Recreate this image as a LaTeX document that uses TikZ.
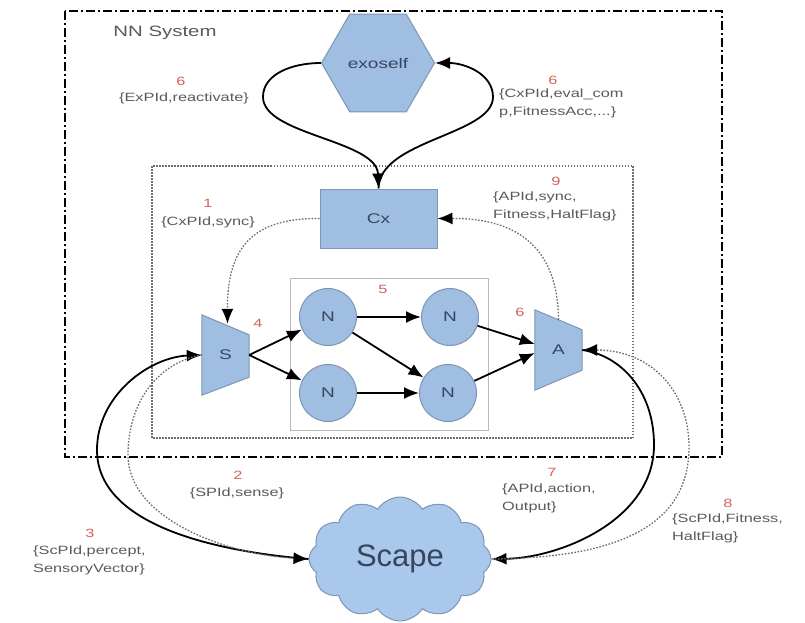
\documentclass[tikz,border=0pt]{standalone}
\usepackage{fontspec}
\setmainfont{Liberation Sans}
\newfontfamily\labfont[FakeStretch=1.36]{Liberation Sans}
\usetikzlibrary{shapes.geometric,shapes.symbols,arrows.meta,calc}
\definecolor{nfill}{RGB}{160,190,225}
\definecolor{nline}{RGB}{125,150,180}
\definecolor{ntext}{RGB}{55,70,95}
\definecolor{labc}{RGB}{90,90,90}
\definecolor{numc}{RGB}{210,100,90}
\definecolor{cloudfill}{RGB}{170,200,235}
\definecolor{dotc}{RGB}{110,110,110}
\begin{document}
\begin{tikzpicture}[x=1pt,y=-1pt,
  nodebox/.style={fill=nfill,draw=nline,line width=1pt},
  ntxt/.style={text=ntext,font=\labfont\fontsize{14}{16}\selectfont},
  lbl/.style={text=labc,font=\labfont\fontsize{12}{18}\selectfont,align=left,inner sep=0pt},
  num/.style={text=numc,font=\labfont\fontsize{12}{14}\selectfont,inner sep=0pt},
  arr/.style={draw=black,line width=1.8pt,-{Latex[length=15pt,width=12pt]}},
  darr/.style={draw=dotc,line width=1.3pt,dash pattern=on 1.6pt off 1.6pt,-{Latex[length=15pt,width=12pt,color=black]}},
  neuron/.style={circle,nodebox,minimum size=57pt,inner sep=0pt,ntxt},
  trapbox/.style={minimum width=47pt,minimum height=80pt,inner sep=0pt,ntxt}
]
\fill[white] (0,0) rectangle (805,623);
\useasboundingbox (0,0) rectangle (805,623);

% frames
\draw[line width=2.4pt,dash pattern=on 9pt off 3pt on 2pt off 3pt] (65,11) rectangle (722,457);
\draw[draw=dotc,line width=1.2pt,dash pattern=on 1.5pt off 1.5pt] (152,166) rectangle (633,438);
\draw[gray!55,line width=1pt] (290,278) rectangle (488,430);

% main nodes
\node[regular polygon,regular polygon sides=6,minimum size=113pt,inner sep=0pt,nodebox,ntxt] (exo) at (378,63) {exoself};
\node[rectangle,nodebox,minimum width=117pt,minimum height=59pt,ntxt] (cx) at (378.5,218.5) {Cx};

\node[trapbox] (S) at (225.5,355) {};
\filldraw[nodebox] (S.north west) -- ($(S.north east)+(0,20)$) -- ($(S.south east)+(0,-18)$) -- (S.south west) -- cycle;
\node[ntxt] (Stext) at (S.center) {S};

\node[trapbox] (A) at (558.5,350) {};
\filldraw[nodebox] (A.north west) -- ($(A.north east)+(0,20)$) -- ($(A.south east)+(0,-20)$) -- (A.south west) -- cycle;
\node[ntxt] (Atext) at (A.center) {A};

\node[neuron] (n1) at (328,317) {N};
\node[neuron] (n2) at (328,393) {N};
\node[neuron] (n3) at (450,317) {N};
\node[neuron] (n4) at (448,393) {N};

\node[cloud,cloud puffs=12,cloud puff arc=115,aspect=1.5,fill=cloudfill,draw=nline,line width=1pt,
      minimum width=182pt,minimum height=124pt,text=ntext,font=\fontsize{31}{34}\selectfont] (scape) at (400,559) {Scape};

% texts
\node[lbl,font=\labfont\fontsize{15}{18}\selectfont] (nnsys) at (165,33) {NN System};
\node[num] (t6a) at (181,81) {6};
\node[lbl] (l6a) at (184,98) {\{ExPId,reactivate\}};
\node[num] (t6b) at (553,80) {6};
\node[lbl,anchor=north west] (l6b) at (499,89) {\{CxPId,eval\_com\\p,FitnessAcc,...\}};
\node[num] (t1) at (208,203) {1};
\node[lbl] (l1) at (208,222) {\{CxPId,sync\}};
\node[num] (t9) at (556,181) {9};
\node[lbl,anchor=north west] (l9) at (493,192) {\{APId,sync,\\Fitness,HaltFlag\}};
\node[num] (t4) at (258,323) {4};
\node[num] (t5) at (383,289) {5};
\node[num] (t6c) at (520,312) {6};
\node[num] (t2) at (238,475) {2};
\node[lbl] (l2) at (237,493) {\{SPId,sense\}};
\node[num] (t7) at (552,472) {7};
\node[lbl,anchor=north west] (l7) at (502,484) {\{APId,action,\\Output\}};
\node[num] (t3) at (90,533) {3};
\node[lbl,anchor=north west] (l3) at (33,546) {\{ScPId,percept,\\SensoryVector\}};
\node[num] (t8) at (728,503) {8};
\node[lbl,anchor=north west] (l8) at (672,514) {\{ScPId,Fitness,\\HaltFlag\}};

% helper coordinates
\coordinate (exL) at (263,97);
\coordinate (exR) at (493,97);
\coordinate (Sin) at ($(S.north)+(2,9)$);
\coordinate (Ain) at ($(A.north)+(0,10)$);
\coordinate (Aup) at ($(A.west)+(0,-6)$);
\coordinate (Alo) at ($(A.west)+(0,3)$);
\coordinate (pL) at (97,450);
\coordinate (sL) at (128,455);
\coordinate (aR) at (654,445);
\coordinate (fR) at (689,447);

% exoself loop
\draw[arr] (exo.west) .. controls (292,63) and (263,74) .. (exL) .. controls (263,135) and (377,140) .. (cx.north);
\draw[arr] (cx.north) .. controls (379,140) and (493,135) .. (exR) .. controls (493,74) and (465,63) .. (exo.east);

% sync
\draw[darr] (cx.west) .. controls (255,218) and (227,245) .. (Sin);
\draw[darr] (Ain) .. controls (558,250) and (520,218) .. (cx.east);

% network
\draw[arr] (S.east) -- (n1);
\draw[arr] (S.east) -- (n2);
\draw[arr] (n1) -- (n3);
\draw[arr] (n1) -- (n4);
\draw[arr] (n2) -- (n4);
\draw[arr] (n3) -- (Aup);
\draw[arr] (n4) -- (Alo);

% scape links
\draw[arr] (scape.west) .. controls (200,550) and (97,520) .. (pL) .. controls (97,395) and (150,357) .. (S.west);
\draw[darr] (S.west) .. controls (160,362) and (128,400) .. (sL) .. controls (128,520) and (230,555) .. (scape.west);
\draw[arr] (A.east) .. controls (620,355) and (654,390) .. (aR) .. controls (654,520) and (560,558) .. (scape.east);
\draw[darr] (scape.east) .. controls (620,558) and (689,525) .. (fR) .. controls (689,390) and (650,350) .. (A.east);
\end{tikzpicture}
\end{document}
